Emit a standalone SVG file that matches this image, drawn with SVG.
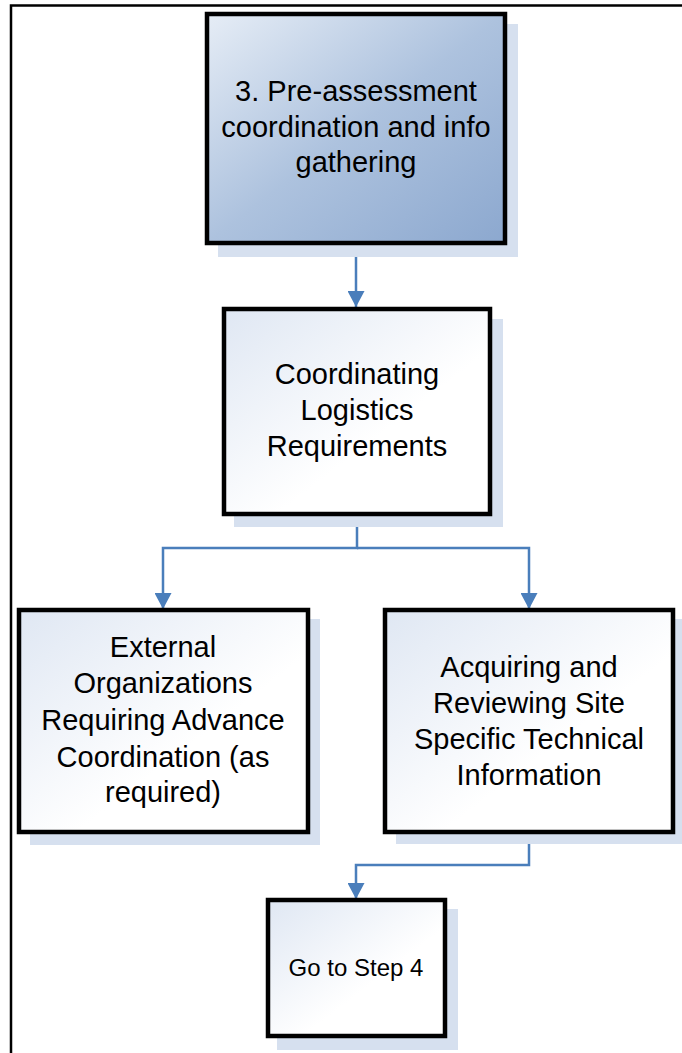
<svg xmlns="http://www.w3.org/2000/svg" width="682" height="1053" viewBox="0 0 682 1053">
<defs>
<linearGradient id="gDark" x1="0" y1="0" x2="1" y2="1">
<stop offset="0" stop-color="#e6edf6"/>
<stop offset="0.5" stop-color="#adc2de"/>
<stop offset="1" stop-color="#8ca8cf"/>
</linearGradient>
<linearGradient id="gLight" x1="0" y1="0" x2="1" y2="1">
<stop offset="0" stop-color="#dfe7f3"/>
<stop offset="0.6" stop-color="#ffffff"/>
<stop offset="1" stop-color="#ffffff"/>
</linearGradient>
<marker id="arr" viewBox="0 0 16 17" refX="16" refY="8.5" markerWidth="16" markerHeight="17" markerUnits="userSpaceOnUse" orient="auto">
<path d="M0,0 L16,8.5 L0,17 Z" fill="#4a7ebb"/>
</marker>
</defs>
<style>
.shadow{fill:#d6e0ef;}
.box{stroke:#000;stroke-width:4.5;}
.lbl{font-family:"Liberation Sans",Arial,sans-serif;font-size:29px;fill:#000;text-anchor:middle;}
.small{font-size:24px;}
.conn{fill:none;stroke:#4a7ebb;stroke-width:2.5;}
.frame{fill:none;stroke:#000;stroke-width:2.5;}
</style>
<rect width="682" height="1053" fill="#fff"/>
<g id="frame">
<path class="frame" d="M11,1053 L11,5.5 L682,5.5"/>
</g>
<g id="connectors">
<path class="conn" d="M356,245 L356,307" marker-end="url(#arr)"/>
<path class="conn" d="M357,516 L357,548 L163,548 L163,609" marker-end="url(#arr)"/>
<path class="conn" d="M357,548 L529,548 L529,609" marker-end="url(#arr)"/>
<path class="conn" d="M529,834 L529,865 L356,865 L356,899" marker-end="url(#arr)"/>
</g>
<g id="node1">
<rect class="shadow" x="218" y="24" width="300" height="233"/>
<rect class="box" x="207" y="14" width="298" height="229" fill="url(#gDark)"/>
<text class="lbl" x="356" y="101">3. Pre-assessment</text>
<text class="lbl" x="356" y="137">coordination and info</text>
<text class="lbl" x="356" y="172">gathering</text>
</g>
<g id="node2">
<rect class="shadow" x="234" y="319" width="269" height="208"/>
<rect class="box" x="224" y="309" width="266" height="205" fill="url(#gLight)"/>
<text class="lbl" x="357" y="384">Coordinating</text>
<text class="lbl" x="357" y="420">Logistics</text>
<text class="lbl" x="357" y="456">Requirements</text>
</g>
<g id="node3">
<rect class="shadow" x="30" y="619" width="290" height="226"/>
<rect class="box" x="19" y="610" width="289" height="222" fill="url(#gLight)"/>
<text class="lbl" x="163" y="657">External</text>
<text class="lbl" x="163" y="693">Organizations</text>
<text class="lbl" x="163" y="730">Requiring Advance</text>
<text class="lbl" x="163" y="767">Coordination (as</text>
<text class="lbl" x="163" y="802">required)</text>
</g>
<g id="node4">
<rect class="shadow" x="396" y="619" width="290" height="225"/>
<rect class="box" x="385" y="610" width="288" height="222" fill="url(#gLight)"/>
<text class="lbl" x="529" y="677">Acquiring and</text>
<text class="lbl" x="529" y="713">Reviewing Site</text>
<text class="lbl" x="529" y="749">Specific Technical</text>
<text class="lbl" x="529" y="785">Information</text>
</g>
<g id="node5">
<rect class="shadow" x="277" y="909" width="181" height="141"/>
<rect class="box" x="268" y="900" width="177" height="136" fill="url(#gLight)"/>
<text class="lbl small" x="356" y="976">Go to Step 4</text>
</g>
</svg>
